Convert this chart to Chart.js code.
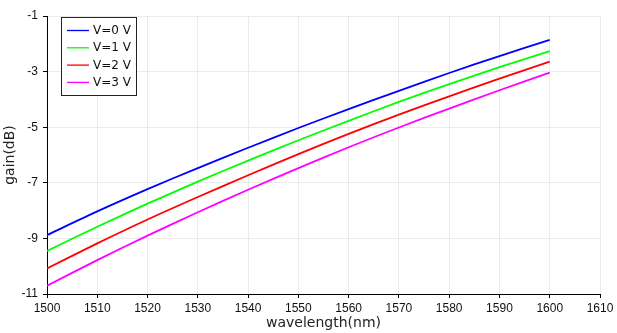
<!DOCTYPE html>
<html>
<head>
<meta charset="utf-8">
<script src="https://cdn.jsdelivr.net/npm/chart.js@4.4.1/dist/chart.umd.min.js"></script>
<style>
html,body{margin:0;padding:0;background:#fff;}
#wrap{width:617px;height:333px;position:relative;}
</style>
</head>
<body>
<div id="wrap"><canvas id="c" width="617" height="333"></canvas></div>
<script>
const wavelengths = [1500,1510,1520,1530,1540,1550,1560,1570,1580,1590,1600];
const gainV0 = [-8.88,-8.03,-7.23,-6.47,-5.74,-5.03,-4.35,-3.69,-3.05,-2.44,-1.86];
const gainV1 = [-9.45,-8.58,-7.75,-6.96,-6.20,-5.47,-4.77,-4.09,-3.45,-2.84,-2.26];
const gainV2 = [-10.08,-9.18,-8.32,-7.51,-6.73,-5.97,-5.24,-4.55,-3.89,-3.25,-2.64];
const gainV3 = [-10.70,-9.78,-8.90,-8.06,-7.25,-6.47,-5.72,-5.01,-4.33,-3.67,-3.04];
const seriesLabels = ['V=0 V','V=1 V','V=2 V','V=3 V'];
const seriesColors = ['#0000ff','#00ff00','#ff0000','#ff00ff'];
const xTitle = 'wavelength(nm)';
const yTitle = 'gain(dB)';

const allSeries = [gainV0, gainV1, gainV2, gainV3];
const datasets = allSeries.map((s, i) => ({
  label: seriesLabels[i],
  data: wavelengths.map((w, j) => ({x: w, y: s[j]})),
  borderColor: seriesColors[i],
  backgroundColor: seriesColors[i],
  borderWidth: 1.8,
  pointRadius: 0,
  fill: false,
  tension: 0.3
}));

const boxLegend = {
  id: 'boxLegend',
  afterDraw(chart) {
    const ctx = chart.ctx;
    ctx.save();
    const bx = 61.5, by = 17.5, bw = 75, bh = 78;
    ctx.fillStyle = '#fff';
    ctx.fillRect(bx, by, bw, bh);
    ctx.strokeStyle = '#222';
    ctx.lineWidth = 1;
    ctx.strokeRect(bx, by, bw, bh);
    ctx.font = '12px "DejaVu Sans"';
    ctx.textBaseline = 'middle';
    ctx.textAlign = 'left';
    seriesLabels.forEach((lab, i) => {
      const y = 30.5 + i * 17.3;
      ctx.strokeStyle = seriesColors[i];
      ctx.lineWidth = 1.3;
      ctx.beginPath();
      ctx.moveTo(67, y);
      ctx.lineTo(89, y);
      ctx.stroke();
      ctx.fillStyle = '#111';
      ctx.fillText(lab, 93, y + 0.5);
    });
    ctx.restore();
  }
};

new Chart(document.getElementById('c'), {
  type: 'line',
  data: { datasets },
  plugins: [boxLegend],
  options: {
    responsive: false,
    animation: false,
    layout: { padding: { left: 0, right: 17, top: 16, bottom: 0 } },
    plugins: { legend: { display: false }, tooltip: { enabled: false } },
    scales: {
      x: {
        type: 'linear',
        min: 1500, max: 1610,
        afterFit(s) { s.height = 39; },
        ticks: { stepSize: 10, color: '#111', font: { family: '"Liberation Sans"', size: 12 }, padding: 3, maxRotation: 0,
                 callback: v => String(v) },
        grid: { color: '#ebebeb', tickColor: '#000', tickLength: 4, lineWidth: 1 },
        border: { color: '#000', width: 1 },
        title: { display: true, text: xTitle, color: '#222', font: { family: '"DejaVu Sans"', size: 14 }, padding: { top: 0, bottom: 1 } }
      },
      y: {
        min: -11, max: -1,
        afterFit(s) { s.width = 47; },
        ticks: { stepSize: 2, color: '#111', font: { family: '"Liberation Sans"', size: 12 }, padding: 5 },
        grid: { color: '#ebebeb', tickColor: '#000', tickLength: 4, lineWidth: 1 },
        border: { color: '#000', width: 1 },
        title: { display: true, text: yTitle, color: '#222', font: { family: '"DejaVu Sans"', size: 14 }, padding: { top: 2, bottom: 0 } }
      }
    }
  }
});
</script>
</body>
</html>
